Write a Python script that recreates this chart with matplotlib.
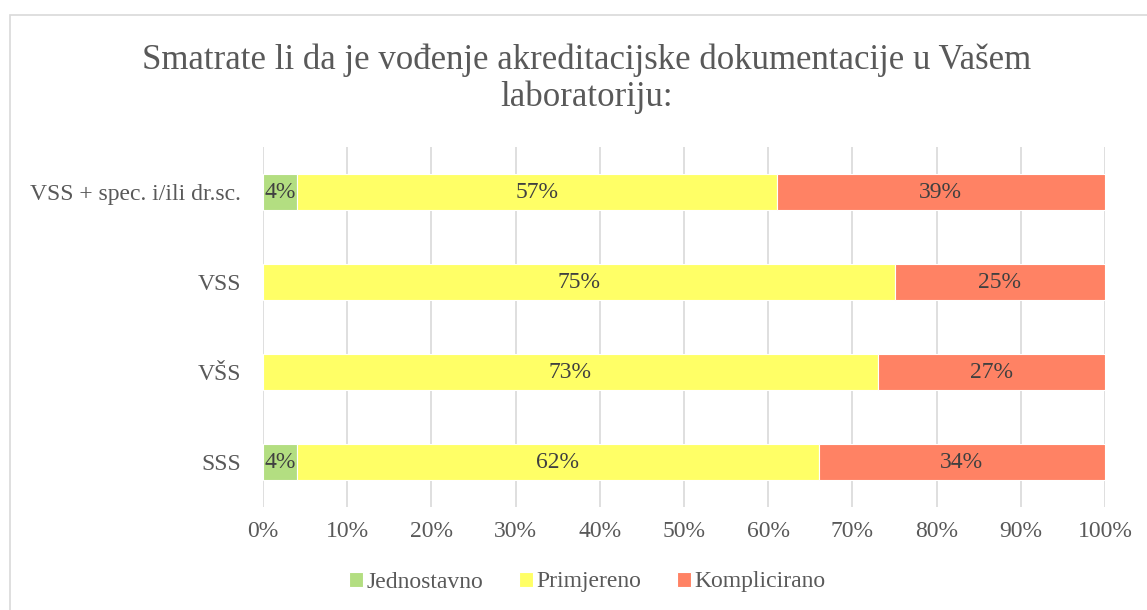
import matplotlib.pyplot as plt
from matplotlib.patches import Rectangle
import numpy as np

categories = ["SSS", "VŠS", "VSS", "VSS + spec. i/ili dr.sc."]
jednostavno = [4, 0, 0, 4]
primjereno = [62, 73, 75, 57]
komplicirano = [34, 27, 25, 39]
series = [("Jednostavno", jednostavno, "#B3DE81"),
          ("Primjereno", primjereno, "#FFFF66"),
          ("Komplicirano", komplicirano, "#FF8264")]

plt.rcParams['font.family'] = ['Liberation Serif', 'DejaVu Serif']
txt = "#595959"
fs = 17

fig = plt.figure(figsize=(11.47, 6.1), dpi=100)
ax = fig.add_axes([263 / 1147, 1 - 507 / 610, (1105 - 263) / 1147, (507 - 147) / 610])

# chart border
fig.patches.append(Rectangle((10 / 1147, -0.1), 1.2, 1 - 15 / 610 + 0.1, transform=fig.transFigure,
                             fill=False, edgecolor="#D9D9D9", linewidth=1.2))

y = np.arange(len(categories))
left = np.zeros(len(categories))
for name, vals, col in series:
    vals = np.array(vals, dtype=float)
    ax.barh(y, vals, left=left, height=0.4, color=col, edgecolor="white", linewidth=0.8, label=name, zorder=3)
    for yi, l, v in zip(y, left, vals):
        if v > 0:
            ax.text(l + v / 2, yi, f"{v:.0f}%", ha="center", va="center", fontsize=fs, color="#404040", zorder=4)
    left += vals

ax.set_xlim(0, 100)
ax.set_ylim(-0.5, len(categories) - 0.5)
ax.set_xticks(np.arange(0, 101, 10))
ax.set_xticklabels([f"{v}%" for v in range(0, 101, 10)])
ax.set_yticks(y)
ax.set_yticklabels(categories)
ax.tick_params(axis="both", length=0, labelsize=fs, labelcolor=txt)
ax.tick_params(axis="x", pad=10)
ax.tick_params(axis="y", pad=16)
ax.grid(axis="x", color="#D9D9D9", linewidth=1.2, zorder=0)
for s in ax.spines.values():
    s.set_visible(False)

fig.text(587 / 1147, 1 - 79 / 610, "Smatrate li da je vođenje akreditacijske dokumentacije u Vašem\nlaboratoriju:",
         ha="center", va="center", fontsize=25, color=txt, linespacing=1.15)

fig.legend(loc="center", bbox_to_anchor=(587 / 1147, 1 - 582 / 610), ncol=3, frameon=False,
           fontsize=fs, labelcolor=txt, handlelength=0.6, handleheight=0.6, handletextpad=0.15,
           columnspacing=1.5)

fig.savefig("out.png", dpi=100)
